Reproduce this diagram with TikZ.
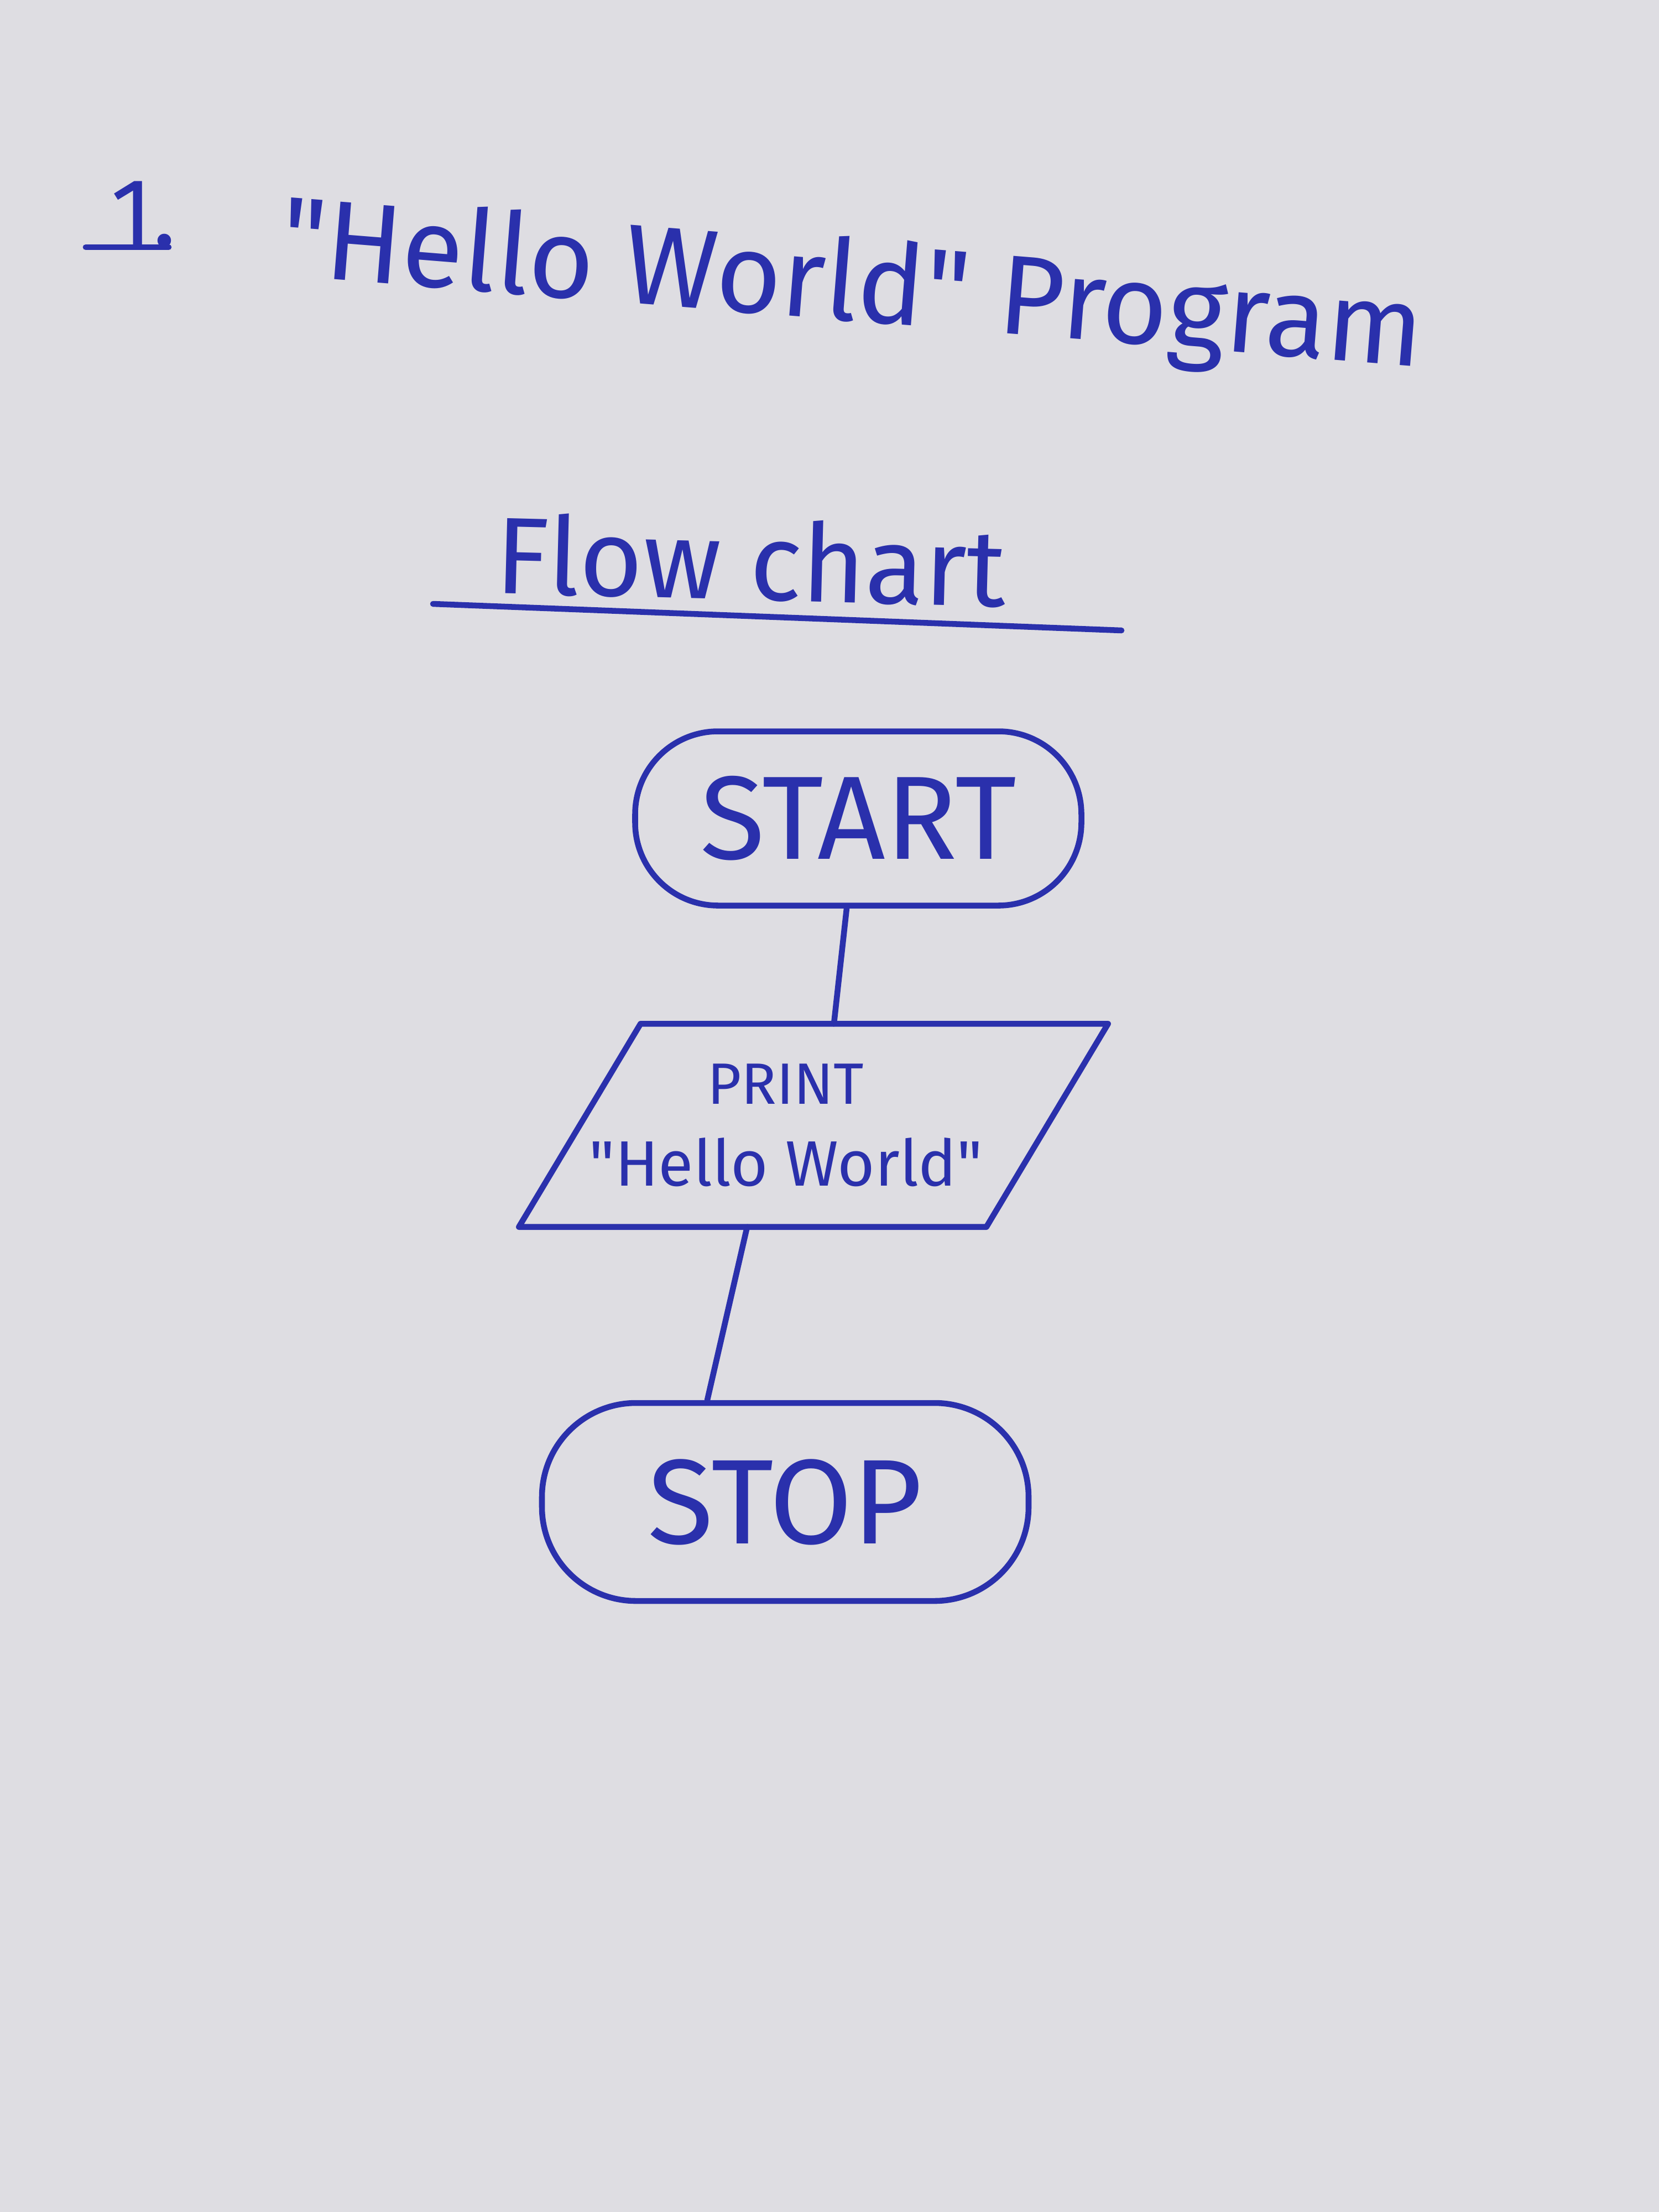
\documentclass[tikz,border=0pt]{standalone}
\usepackage{fontspec}
\setmainfont{Fira Sans}
\definecolor{ink}{RGB}{42,48,172}
\definecolor{paper}{RGB}{222,221,226}
\tikzset{terminal/.style={rectangle, rounded corners=1.5cm, draw=ink, line width=3pt},
	iobox/.style={rectangle, align=center, minimum width=10.64cm, minimum height=3.66cm},
	pen/.style={draw=ink, line width=3pt, line cap=round, line join=round},
	every node/.style={text=ink}}
\newcommand{\qq}{\textquotedbl}

\begin{document}
\begin{tikzpicture}
		\fill[paper] (0,0) rectangle (30,-40);
		\useasboundingbox (0,0) rectangle (30,-40);
		% heading
		\node[anchor=base, font=\fontsize{50}{60}\selectfont] (num) at (2.6,-4.45) {1.};
		\coordinate (n1) at (1.55,-4.47);
		\coordinate (n2) at (3.05,-4.47);
		\draw[pen] (n1) -- (n2);
		\node[anchor=base, rotate=-4.6, font=\fontsize{58}{70}\selectfont] (title) at (15.36,-5.80) {\qq Hello World\qq{} Program};
		\node[anchor=base, rotate=-1.5, font=\fontsize{56}{66}\selectfont] (flow) at (13.56,-10.85) {Flow chart};
		\coordinate (f1) at (7.83,-10.92);
		\coordinate (f2) at (20.28,-11.40);
		\draw[pen] (f1) -- (f2);
		% chart
		\node[terminal, minimum width=8.07cm, minimum height=3.15cm, font=\fontsize{61}{70}\selectfont] (start) at (15.52,-14.80) {START};
		\node[iobox, font=\fontsize{33}{42}\selectfont] (print) at (14.71,-20.35) {{\fontsize{30}{42}\selectfont PRINT}\hspace*{1cm}\\\qq Hello World\qq\hspace*{1cm}};
		\draw[pen] ([xshift=2.2cm]print.north west) -- (print.north east) -- ([xshift=-2.2cm]print.south east) -- (print.south west) -- cycle;
		\node[terminal, rounded corners=1.7cm, minimum width=8.8cm, minimum height=3.58cm, font=\fontsize{62}{70}\selectfont] (stop) at (14.20,-27.16) {STOP};
		\draw[pen] ([xshift=-2.1mm]start.south) -- ([xshift=3.7mm]print.north);
		\draw[pen] ([xshift=-12mm]print.south) -- ([xshift=-14.1mm]stop.north);
		\end{tikzpicture}
\end{document}
